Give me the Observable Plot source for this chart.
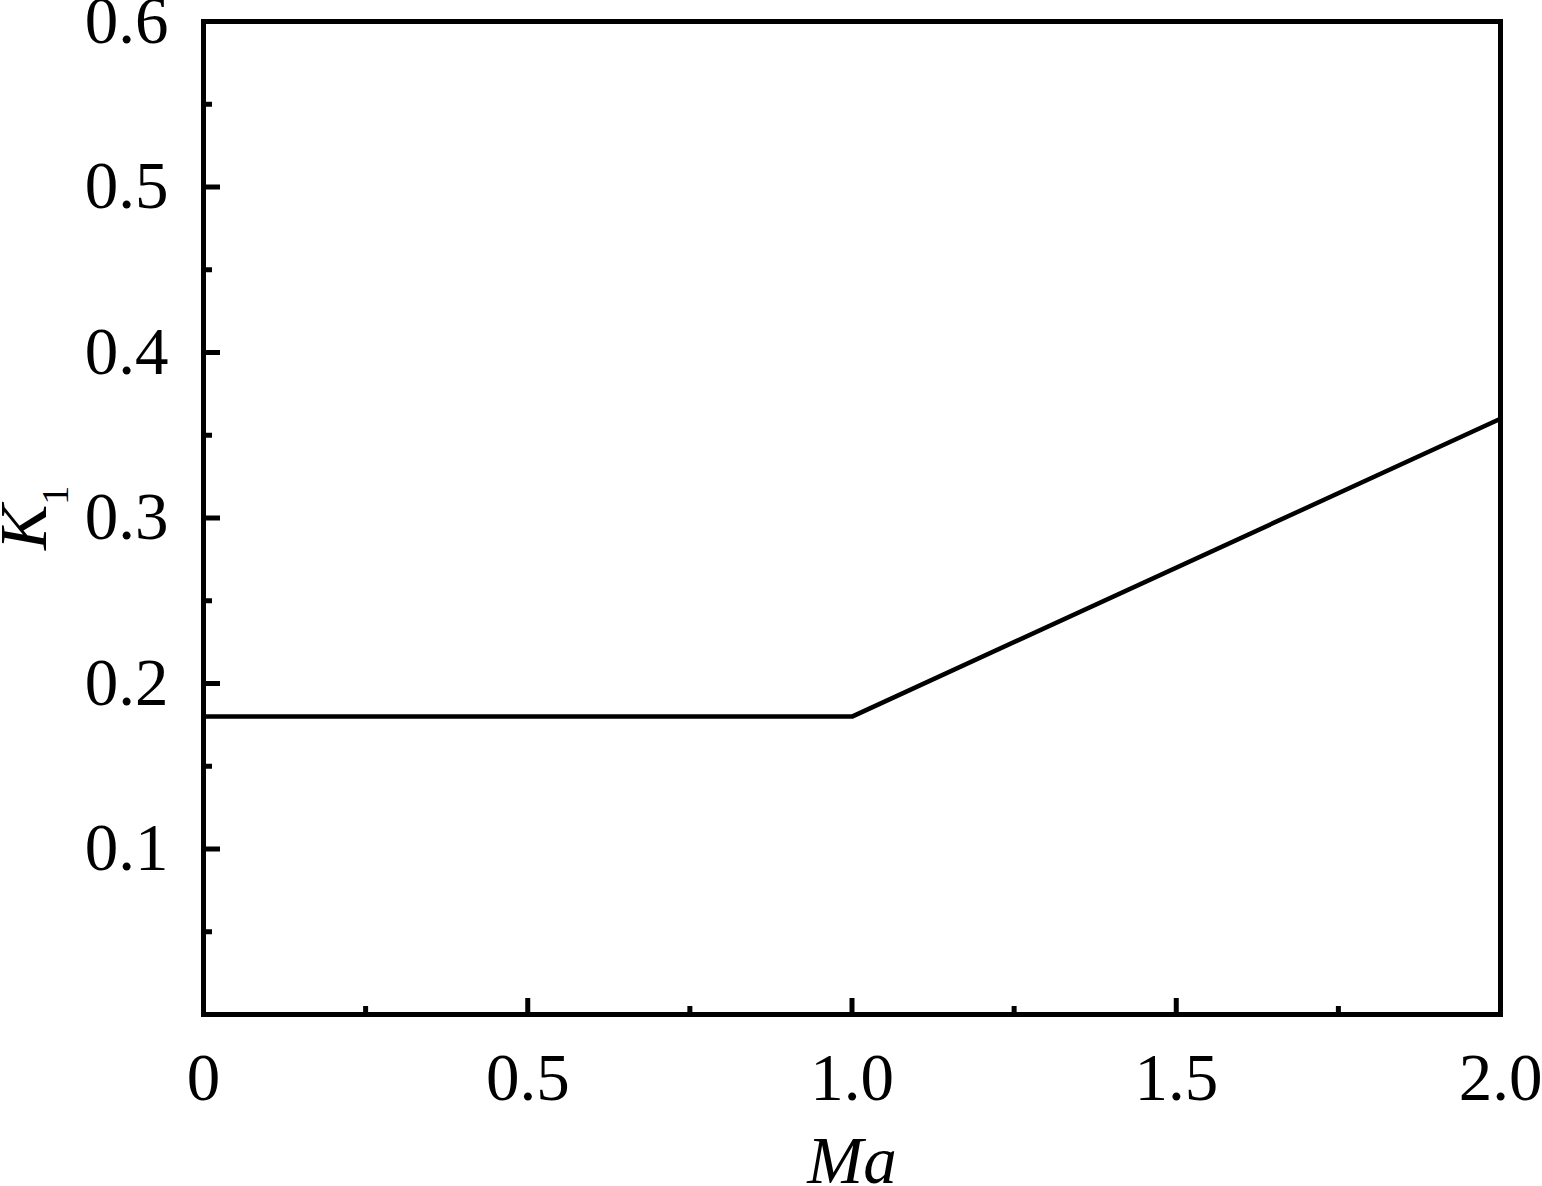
<!DOCTYPE html>
<html>
<head>
<meta charset="utf-8">
<script src="https://cdn.jsdelivr.net/npm/d3@7"></script>
<script src="https://cdn.jsdelivr.net/npm/@observablehq/plot@0.6"></script>
<style>
  html, body { margin: 0; padding: 0; background: #fff; }
  #chart svg { display: block; }
</style>
</head>
<body>
<div id="chart"></div>
<script>
const ma = [0, 1.0, 2.0];
const k1 = [0.18, 0.18, 0.36];
const xMajor = [0, 0.5, 1.0, 1.5, 2.0];
const xMinor = [0.25, 0.75, 1.25, 1.75];
const yMajor = [0.1, 0.2, 0.3, 0.4, 0.5, 0.6];
const yMinor = [0.05, 0.15, 0.25, 0.35, 0.45, 0.55];
const xLabel = "Ma";
const yLabel = "K";
const ySub = "1";

const data = ma.map((m, i) => ({ma: m, k: k1[i]}));
const font = "'Liberation Serif', 'Times New Roman', serif";

const chart = Plot.plot({
  width: 1542,
  height: 1186,
  marginLeft: 203,
  marginRight: 42,
  marginTop: 21,
  marginBottom: 172,
  style: { fontFamily: font, fontSize: "66px", background: "#fff", color: "#000" },
  x: { domain: [0, 2], axis: null },
  y: { domain: [0, 0.6], axis: null },
  marks: [
    Plot.axisX(xMajor, { anchor: "bottom", tickSize: 0, tickPadding: 38, lineAnchor: "top",
      tickFormat: d => d === 0 ? "0" : d.toFixed(1), label: null, fontSize: 67 }),
    Plot.axisX(xMajor.slice(1, -1), { anchor: "bottom", tickSize: -16, text: null, strokeWidth: 5, label: null }),
    Plot.axisX(xMinor, { anchor: "bottom", tickSize: -8, text: null, strokeWidth: 5, label: null }),
    Plot.axisY(yMajor, { anchor: "left", tickSize: 0, tickPadding: 35,
      tickFormat: d => d.toFixed(1), label: null, fontSize: 67 }),
    Plot.axisY(yMajor.slice(0, -1), { anchor: "left", tickSize: -17, text: null, strokeWidth: 5, label: null }),
    Plot.axisY(yMinor, { anchor: "left", tickSize: -9, text: null, strokeWidth: 5, label: null }),
    Plot.line(data, { x: "ma", y: "k", stroke: "black", strokeWidth: 4.5 }),
    Plot.frame({ stroke: "black", strokeWidth: 5 }),
    Plot.text([xLabel], { frameAnchor: "bottom", text: d => d, dy: 168, lineAnchor: "bottom",
      fontStyle: "italic", fontSize: 67, className: "xlab" }),
    Plot.text([yLabel], { frameAnchor: "left", text: d => d, dx: -158, dy: 32, rotate: -90,
      lineAnchor: "bottom", fontStyle: "italic", fontSize: 68, className: "ylab" })
  ]
});

document.getElementById("chart").appendChild(chart);

// subscript on the y label
d3.select(chart).selectAll(".ylab text").each(function() {
  const t = d3.select(this);
  t.attr("dy", null);
  t.text(null);
  t.append("tspan").text(yLabel);
  t.append("tspan").text(ySub)
    .attr("font-style", "normal")
    .attr("font-size", 38)
    .attr("dy", 22);
});
d3.select(chart).selectAll(".xlab text").attr("dy", null);
</script>
</body>
</html>
